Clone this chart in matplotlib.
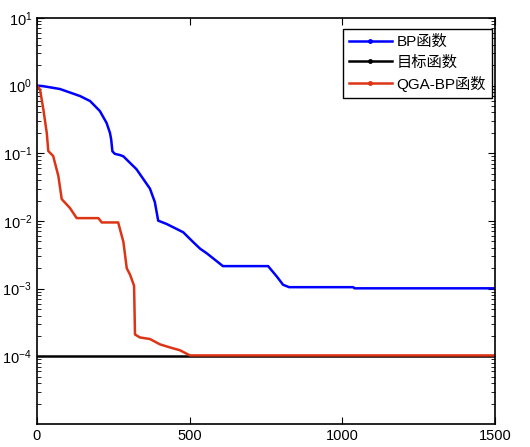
import matplotlib
matplotlib.use("Agg")
import matplotlib.pyplot as plt
from matplotlib.lines import Line2D
import matplotlib.ticker as mticker

plt.rcParams['font.family'] = ['Liberation Sans', 'Noto Sans CJK SC', 'DejaVu Sans']
plt.rcParams['mathtext.default'] = 'regular'

# BP network error curve
bp_x = [0, 20, 75, 141, 174, 206, 228, 239, 243, 247, 255, 272, 283, 326, 370, 386, 397,
        425, 468, 479, 511, 534, 557, 577, 609, 757, 786, 806, 826, 1036, 1040, 1500]
bp_y = [1.0, 0.98, 0.89, 0.70, 0.59, 0.42, 0.28, 0.20, 0.16, 0.107, 0.098, 0.094, 0.090,
        0.058, 0.030, 0.019, 0.0101, 0.0090, 0.0072, 0.0068, 0.0049, 0.0039, 0.0033, 0.0028,
        0.00215, 0.00215, 0.0015, 0.00114, 0.00105, 0.00105, 0.00101, 0.00101]

# target error
goal_x = [0, 1500]
goal_y = [1e-4, 1e-4]

# QGA-BP error curve
qga_x = [0, 10, 21, 32, 37, 53, 70, 81, 108, 130, 201, 212, 266, 273, 283, 294, 305, 318,
         321, 337, 370, 403, 436, 468, 501, 1500]
qga_y = [1.0, 0.87, 0.44, 0.20, 0.108, 0.091, 0.046, 0.021, 0.0155, 0.011, 0.011, 0.0095,
         0.0095, 0.0072, 0.0049, 0.0020, 0.0016, 0.0011, 2.1e-4, 1.9e-4, 1.8e-4, 1.5e-4,
         1.35e-4, 1.23e-4, 1.03e-4, 1.03e-4]

labels = ["BP函数", "目标函数", "QGA-BP函数"]
colors = ["#0000ff", "#000000", "#dc3414"]

fig = plt.figure(figsize=(5.3, 4.47), dpi=100)
ax = fig.add_axes([0.0698, 0.0515, 0.864, 0.9085])

ax.plot(bp_x, bp_y, color=colors[0], lw=1.8)
ax.plot(goal_x, goal_y, color=colors[1], lw=1.8)
ax.plot(qga_x, qga_y, color=colors[2], lw=1.8)

ax.set_yscale("log")
ax.set_xlim(0, 1500)
ax.set_ylim(1e-5, 10)
ax.set_xticks([0, 500, 1000, 1500])
ax.set_yticks([1e-4, 1e-3, 1e-2, 1e-1, 1, 10])
ax.yaxis.set_minor_locator(mticker.LogLocator(base=10, subs=range(2, 10), numticks=20))
ax.yaxis.set_minor_formatter(mticker.NullFormatter())
ax.tick_params(which="both", direction="in", top=True, right=True, labelsize=10.5)
ax.tick_params(which="major", length=5, width=0.8)
ax.tick_params(which="minor", length=3, width=0.6)
for s in ax.spines.values():
    s.set_linewidth(1.2)

handles = [Line2D([], [], color=c, lw=1.8, marker=".", markersize=5) for c in colors]
leg = ax.legend(handles, labels, loc="upper right", bbox_to_anchor=(0.9934, 0.973),
                borderaxespad=0, fontsize=11, fancybox=False, edgecolor="black",
                framealpha=1, handlelength=2.8, handletextpad=0.3, borderpad=0.4,
                labelspacing=0.4)
leg.get_frame().set_linewidth(1.0)

fig.savefig("out.png", dpi=100)
